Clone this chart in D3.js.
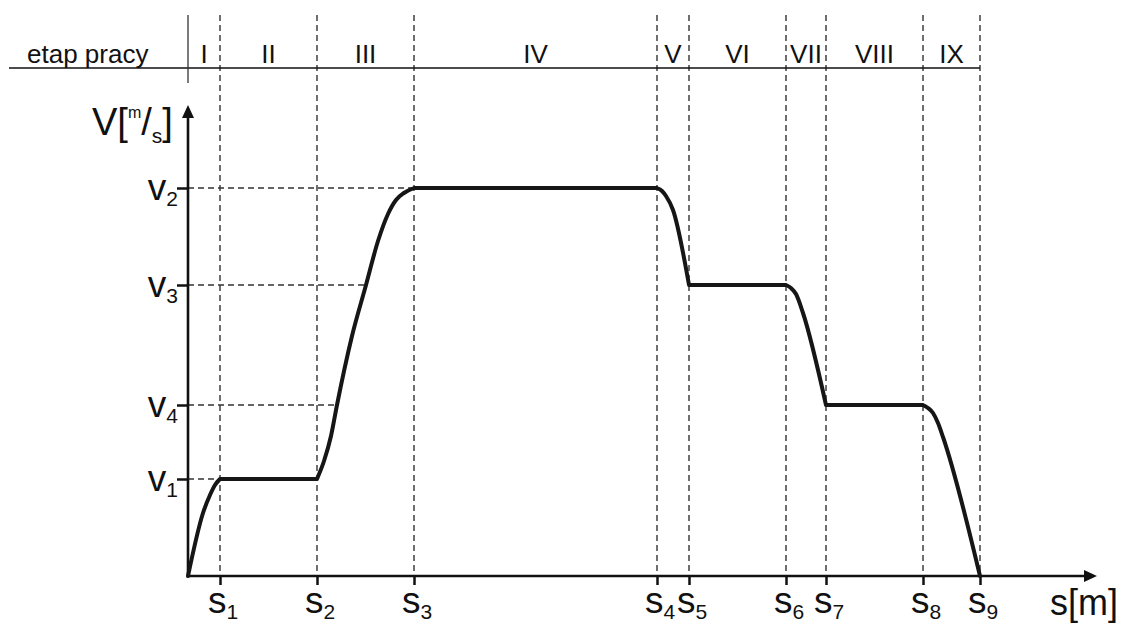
<!DOCTYPE html>
<html>
<head>
<meta charset="utf-8">
<script src="https://cdn.jsdelivr.net/npm/d3@7"></script>
<style>
  html, body { margin: 0; padding: 0; background: #fff; }
  svg { display: block; font-family: "Liberation Sans", Arial, Helvetica, sans-serif; }
</style>
</head>
<body>
<svg id="chart" width="1122" height="624"></svg>
<script>
// ---- data ----
const sNames = ["1", "2", "3", "4", "5", "6", "7", "8", "9"];
const sValues = [32, 129, 226, 469, 501, 598, 638, 735, 792];
const vNames = ["1", "2", "3", "4"];
const vValues = [97, 388, 291, 171];
const stageNames = ["I", "II", "III", "IV", "V", "VI", "VII", "VIII", "IX"];
const headerTitle = "etap pracy";
const pathS = [0, 15, 22, 27, 32, 129, 136, 143, 149, 164, 178, 190, 200, 208, 216, 226,
               469, 474, 478, 485, 501, 598, 603, 608, 615, 638, 735, 740, 745, 750, 755, 792];
const pathV = [0, 63, 81, 91, 97, 97, 115, 140, 171, 240, 291, 335, 362, 376, 383, 388,
               388, 385, 380, 366, 291, 291, 288, 282, 263, 171, 171, 168, 163, 153, 139, 0];

// ---- setup ----
const svg = d3.select("#chart");
const x = d3.scaleLinear().domain([0, 909]).range([188, 1097]);
const y = d3.scaleLinear().domain([0, 471]).range([576, 105]);
const x0 = x(0), y0 = y(0);
const topY = 15, headerY = 68, textBaseline = 63;
const dashColor = "#333";

// vertical dashed lines
svg.append("g").selectAll("line").data(sValues).join("line")
  .attr("x1", d => x(d)).attr("x2", d => x(d))
  .attr("y1", topY).attr("y2", y0)
  .attr("stroke", dashColor).attr("stroke-width", 1.4)
  .attr("stroke-dasharray", "6,4");

// horizontal dashed lines to the start of each plateau
svg.append("g").selectAll("line").data(vValues).join("line")
  .attr("x1", x0)
  .attr("x2", v => x(pathS[pathV.indexOf(v)]))
  .attr("y1", v => y(v)).attr("y2", v => y(v))
  .attr("stroke", dashColor).attr("stroke-width", 1.4)
  .attr("stroke-dasharray", "6,4");

// header
svg.append("line").attr("x1", 9).attr("x2", x(sValues[sValues.length - 1]))
  .attr("y1", headerY).attr("y2", headerY)
  .attr("stroke", "#111").attr("stroke-width", 1.6);
svg.append("line").attr("x1", x0).attr("x2", x0)
  .attr("y1", topY).attr("y2", 83)
  .attr("stroke", "#333").attr("stroke-width", 1.3);
svg.append("text").attr("x", 27).attr("y", textBaseline)
  .attr("font-size", 26).attr("fill", "#111").text(headerTitle);
const bounds = [0].concat(sValues);
svg.append("g").selectAll("text").data(stageNames).join("text")
  .attr("x", (d, i) => (x(bounds[i]) + x(bounds[i + 1])) / 2)
  .attr("y", textBaseline)
  .attr("text-anchor", "middle")
  .attr("font-size", 26).attr("fill", "#111")
  .text(d => d);

// axes ticks via d3 axes
const xAxis = d3.axisBottom(x).tickValues(sValues).tickSize(9).tickSizeOuter(0).tickFormat("");
const gx = svg.append("g").attr("transform", `translate(0,${y0})`).call(xAxis);
gx.select(".domain").remove();
gx.selectAll(".tick line").attr("stroke", "#111").attr("stroke-width", 2.5);

const yAxis = d3.axisLeft(y).tickValues(vValues).tickSize(11).tickSizeOuter(0).tickFormat("");
const gy = svg.append("g").attr("transform", `translate(${x0},0)`).call(yAxis);
gy.select(".domain").remove();
gy.selectAll(".tick line").attr("stroke", "#111").attr("stroke-width", 2.5);

// axis lines with arrows
const xEnd = x.range()[1], yEnd = y.range()[1];
svg.append("line").attr("x1", x0).attr("x2", xEnd - 10).attr("y1", y0).attr("y2", y0)
  .attr("stroke", "#111").attr("stroke-width", 2.6);
svg.append("line").attr("x1", x0).attr("x2", x0).attr("y1", y0).attr("y2", yEnd + 10)
  .attr("stroke", "#111").attr("stroke-width", 2.6);
svg.append("path")
  .attr("d", `M${xEnd},${y0} L${xEnd - 13},${y0 - 6} L${xEnd - 13},${y0 + 6} Z`)
  .attr("fill", "#111");
svg.append("path")
  .attr("d", `M${x0},${yEnd} L${x0 - 6},${yEnd + 13} L${x0 + 6},${yEnd + 13} Z`)
  .attr("fill", "#111");

// curve: split into plateaus (straight) and transitions (smooth)
const pts = pathS.map((s, i) => [s, pathV[i]]);
const segments = [];
let cur = [pts[0]];
for (let i = 1; i < pts.length; i++) {
  const flat = pts[i][1] === pts[i - 1][1];
  const curFlat = cur.length > 1 && cur[cur.length - 1][1] === cur[cur.length - 2][1];
  if (cur.length > 1 && flat !== curFlat) {
    segments.push(cur);
    cur = [pts[i - 1]];
  }
  cur.push(pts[i]);
}
segments.push(cur);
const smooth = d3.line().x(d => x(d[0])).y(d => y(d[1])).curve(d3.curveMonotoneX);
const straight = d3.line().x(d => x(d[0])).y(d => y(d[1])).curve(d3.curveLinear);
const dStr = segments.map(seg => {
  const isFlat = seg.every(p => p[1] === seg[0][1]);
  return (isFlat ? straight : smooth)(seg);
}).join("");
svg.append("path").attr("d", dStr)
  .attr("fill", "none").attr("stroke", "#161616").attr("stroke-width", 4)
  .attr("stroke-linejoin", "round").attr("stroke-linecap", "round");

// x tick labels: s with subscript
const sLab = svg.append("g").selectAll("text").data(sValues).join("text")
  .attr("x", d => x(d) + 3).attr("y", 613)
  .attr("text-anchor", "middle").attr("fill", "#111");
sLab.append("tspan").attr("font-size", 37).text("s");
sLab.append("tspan").attr("font-size", 21).attr("dy", 6).text((d, i) => sNames[i]);

// y tick labels: v with subscript
const vLab = svg.append("g").selectAll("text").data(vValues).join("text")
  .attr("x", x0 - 10).attr("y", d => y(d) + 12)
  .attr("text-anchor", "end").attr("fill", "#111");
vLab.append("tspan").attr("font-size", 37).text("v");
vLab.append("tspan").attr("font-size", 21).attr("dy", 6).text((d, i) => vNames[i]);

// axis titles
const yt = svg.append("text").attr("x", 92).attr("y", 135).attr("fill", "#111");
yt.append("tspan").attr("font-size", 38).text("V[");
yt.append("tspan").attr("font-size", 16).attr("dy", -17).text("m");
yt.append("tspan").attr("font-size", 38).attr("dy", 17).text("/");
yt.append("tspan").attr("font-size", 21).attr("dy", 8).text("s");
yt.append("tspan").attr("font-size", 38).attr("dy", -8).text("]");

svg.append("text").attr("x", 1050).attr("y", 615).attr("font-size", 36)
  .attr("fill", "#111").text("s[m]");
</script>
</body>
</html>
